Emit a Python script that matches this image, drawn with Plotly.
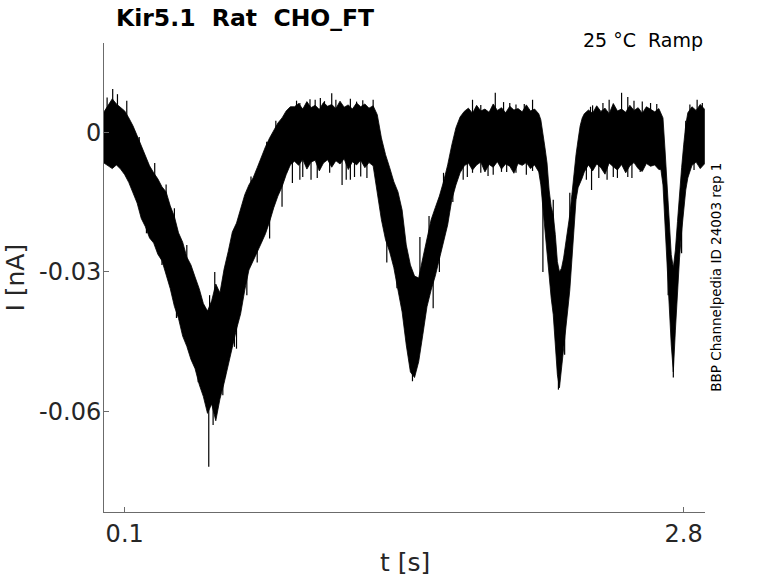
import plotly.graph_objects as go

t_s = [0.00,0.02,0.04,0.06,0.08,0.10,0.12,0.14,0.16,0.18,
       0.20,0.22,0.24,0.26,0.28,0.30,0.32,0.34,0.36,0.38,
       0.40,0.42,0.44,0.46,0.48,0.50,0.52,0.54,0.56,0.58,
       0.60,0.62,0.64,0.66,0.68,0.70,0.72,0.74,0.76,0.78,
       0.80,0.82,0.84,0.86,0.88,0.90,
       0.92,0.94,0.96,0.98,1.00,1.02,1.04,1.06,1.08,1.10,
       1.12,1.14,1.16,1.18,1.20,1.22,1.24,1.26,1.28,1.30,
       1.32,1.34,1.36,1.38,1.40,1.42,1.44,1.46,1.48,1.50,
       1.52,1.54,1.56,1.58,1.60,1.62,1.64,1.66,1.68,1.70,1.72,
       1.74,1.76,1.78,1.80,1.82,1.84,1.86,1.88,1.90,1.92,
       1.94,1.96,1.98,2.00,2.02,2.04,2.06,2.08,
       2.10,2.11,2.12,2.13,2.14,2.15,2.16,2.17,2.18,2.19,
       2.20,2.21,2.22,2.23,2.24,2.25,2.26,2.27,2.28,2.29,
       2.30,2.31,2.32,
       2.34,2.36,2.38,2.40,2.42,2.44,2.46,2.48,2.50,2.52,
       2.54,2.56,2.58,2.60,2.62,2.64,2.66,2.68,
       2.69,2.70,2.71,2.72,2.73,2.74,2.75,2.76,2.77,2.78,
       2.79,2.80,2.81,2.82,2.83,
       2.84,2.86,2.88,2.90]

i_upper = [0.0044,0.0059,0.0072,0.0061,0.0053,0.0046,0.0031,0.0014,-0.0007,-0.0029,
           -0.0052,-0.0072,-0.0087,-0.0100,-0.0117,-0.0128,-0.0158,-0.0181,-0.0216,-0.0236,
           -0.0268,-0.0285,-0.0311,-0.0336,-0.0368,-0.0384,-0.0362,-0.0326,-0.0345,-0.0294,
           -0.0256,-0.0214,-0.0195,-0.0165,-0.0134,-0.0113,-0.0098,-0.0076,-0.0053,-0.0031,
           -0.0012,0.0005,0.0020,0.0031,0.0046,0.0055,
           0.0055,0.0062,0.0050,0.0066,0.0053,0.0058,0.0049,0.0064,0.0056,0.0060,
           0.0051,0.0067,0.0054,0.0059,0.0050,0.0063,0.0055,0.0061,0.0052,0.0057,
           0.0038,-0.0012,-0.0048,-0.0076,-0.0106,-0.0128,-0.0167,-0.0242,-0.0285,-0.0309,
           -0.0313,-0.0270,-0.0225,-0.0188,-0.0162,-0.0137,-0.0106,-0.0070,-0.0027,0.0010,0.0033,
           0.0045,0.0052,0.0041,0.0058,0.0046,0.0050,0.0043,0.0061,0.0047,0.0053,
           0.0042,0.0056,0.0048,0.0051,0.0044,0.0059,0.0046,0.0050,
           0.0040,0.0027,0.0001,-0.0033,-0.0066,-0.0124,-0.0160,-0.0177,-0.0220,-0.0278,
           -0.0300,-0.0292,-0.0270,-0.0242,-0.0214,-0.0177,-0.0134,-0.0085,-0.0048,-0.0016,
           0.0014,0.0031,0.0040,
           0.0048,0.0041,0.0057,0.0045,0.0052,0.0040,0.0062,0.0046,0.0050,0.0043,
           0.0058,0.0047,0.0053,0.0041,0.0055,0.0049,0.0044,0.0051,
           0.0042,0.0031,-0.0038,-0.0113,-0.0192,-0.0263,-0.0291,-0.0253,-0.0192,-0.0128,
           -0.0076,-0.0027,0.0016,0.0042,0.0048,
           0.0055,0.0047,0.0060,0.0050]

i_lower = [-0.0066,-0.0072,-0.0078,-0.0070,-0.0079,-0.0091,-0.0108,-0.0130,-0.0152,-0.0185,
           -0.0203,-0.0227,-0.0238,-0.0262,-0.0276,-0.0303,-0.0336,-0.0374,-0.0400,-0.0438,
           -0.0460,-0.0488,-0.0508,-0.0542,-0.0568,-0.0604,-0.0584,-0.0620,-0.0573,-0.0539,
           -0.0498,-0.0463,-0.0423,-0.0390,-0.0339,-0.0296,-0.0274,-0.0257,-0.0238,-0.0218,
           -0.0192,-0.0162,-0.0137,-0.0117,-0.0091,-0.0070,
           -0.0062,-0.0071,-0.0058,-0.0079,-0.0064,-0.0060,-0.0083,-0.0066,-0.0059,-0.0075,
           -0.0061,-0.0068,-0.0057,-0.0080,-0.0063,-0.0070,-0.0060,-0.0076,-0.0065,-0.0072,
           -0.0128,-0.0188,-0.0231,-0.0257,-0.0291,-0.0339,-0.0386,-0.0457,-0.0515,-0.0527,
           -0.0493,-0.0435,-0.0375,-0.0339,-0.0309,-0.0274,-0.0238,-0.0199,-0.0145,-0.0113,-0.0087,
           -0.0072,-0.0066,-0.0081,-0.0070,-0.0064,-0.0085,-0.0069,-0.0075,-0.0063,-0.0079,
           -0.0068,-0.0073,-0.0088,-0.0067,-0.0071,-0.0065,-0.0078,-0.0070,
           -0.0085,-0.0113,-0.0156,-0.0199,-0.0246,-0.0306,-0.0356,-0.0392,-0.0457,-0.0521,
           -0.0549,-0.0515,-0.0468,-0.0425,-0.0382,-0.0339,-0.0291,-0.0210,-0.0145,-0.0119,
           -0.0109,-0.0098,-0.0085,
           -0.0070,-0.0083,-0.0068,-0.0076,-0.0090,-0.0066,-0.0074,-0.0081,-0.0069,-0.0087,
           -0.0072,-0.0065,-0.0078,-0.0084,-0.0067,-0.0073,-0.0070,-0.0080,
           -0.0080,-0.0113,-0.0199,-0.0278,-0.0371,-0.0457,-0.0515,-0.0425,-0.0339,-0.0270,
           -0.0214,-0.0167,-0.0124,-0.0098,-0.0085,
           -0.0071,-0.0064,-0.0078,-0.0068]

# ---- isolated noise spikes: time, start (inside band), tip ----
spike_t = [0.015,0.042,0.065,0.11,0.535,0.93,0.995,1.045,1.10,1.19,1.25,1.30,
           1.78,1.89,1.93,1.99,2.07,2.36,2.44,2.50,2.56,2.64,2.83,2.865,
           0.17,0.245,0.30,0.34,0.40,0.51,0.656,0.71,0.786,0.83,
           1.526,1.57,1.64,2.17,2.25,2.81,
           0.946,1.02,1.065,1.12,1.22,1.82,1.96,2.03,2.35,2.41,2.53,2.60,2.67,2.89,
           0.10,0.205,0.28,0.35,0.43,0.455,0.506,0.527,0.585,0.63,
           0.91,0.946,1.03,1.15,1.17,1.24,1.27,1.49,
           1.735,1.78,1.88,1.945,2.04,2.195,2.355,2.43,2.48,2.55,2.75,
           0.574,0.64,0.69,0.74,0.80,0.86,1.366,1.415,1.59,1.62,1.685,
           2.12,2.225,2.725,2.79,
           0.96,1.00,1.09,1.19,1.21,1.755,1.82,1.855,1.92,1.99,2.07,
           2.33,2.39,2.46,2.53,2.59,2.85]
spike_from = [0.002,0.003,0.003,0.002,-0.040,0,0,0,0,0,0,0,
              0,0,0,0,0,0,0,0,0,0,0,0,
              -0.006,-0.014,-0.020,-0.025,-0.033,-0.045,-0.028,-0.018,-0.010,-0.005,
              -0.040,-0.030,-0.018,-0.028,-0.025,-0.005,
              0,0,0,0,0,0,0,0,0,0,0,0,0,0,
              -0.004,-0.012,-0.020,-0.030,-0.040,-0.045,-0.050,-0.050,-0.045,-0.035,
              -0.002,-0.002,-0.002,-0.002,-0.002,-0.002,-0.002,-0.045,
              -0.002,-0.002,-0.002,-0.002,-0.002,-0.045,-0.002,-0.002,-0.002,-0.002,-0.045,
              -0.045,-0.035,-0.025,-0.018,-0.012,-0.005,-0.015,-0.020,-0.025,-0.020,-0.008,
              -0.010,-0.035,-0.020,-0.012,
              -0.002,-0.002,-0.002,-0.002,-0.002,-0.002,-0.002,-0.002,-0.002,-0.002,-0.002,
              -0.002,-0.002,-0.002,-0.002,-0.002,-0.002]
spike_tip = [0.0075,0.0093,0.0082,0.0068,-0.0300,0.0068,0.0071,0.0074,0.0084,0.0072,0.0069,0.0070,
             0.0070,0.0085,0.0065,0.0060,0.0070,0.0058,0.0070,0.0085,0.0068,0.0063,0.0060,0.0070,
             -0.0010,-0.0066,-0.0112,-0.0163,-0.0242,-0.0350,-0.0200,-0.0095,-0.0020,0.0025,
             -0.0225,-0.0180,-0.0087,-0.0145,-0.0130,0.0025,
             0.0063,0.0070,0.0067,0.0070,0.0066,0.0059,0.0063,0.0061,0.0055,0.0063,0.0076,0.0066,0.0061,0.0063,
             -0.0087,-0.0217,-0.0285,-0.0399,-0.0489,-0.0537,-0.0719,-0.0629,-0.0526,-0.0461,
             -0.0109,-0.0102,-0.0098,-0.0113,-0.0102,-0.0095,-0.0098,-0.0535,
             -0.0102,-0.0087,-0.0091,-0.0085,-0.0091,-0.0553,-0.0124,-0.0102,-0.0098,-0.0098,-0.0527,
             -0.0565,-0.0465,-0.0350,-0.0280,-0.0228,-0.0160,-0.0280,-0.0335,-0.0378,-0.0300,-0.0150,
             -0.0300,-0.0478,-0.0350,-0.0260,
             -0.0096,-0.0102,-0.0087,-0.0102,-0.0096,-0.0096,-0.0087,-0.0094,-0.0085,-0.0087,-0.0083,
             -0.0102,-0.0098,-0.0096,-0.0096,-0.0085,-0.0081]

x_ticks = [0.1, 2.8]
x_ticklabels = ["0.1", "2.8"]
y_ticks = [-0.06, -0.03, 0]
y_ticklabels = ["-0.06", "-0.03", "0"]

assert len(t_s) == len(i_upper) == len(i_lower)
assert len(spike_t) == len(spike_from) == len(spike_tip)

FONT = "DejaVu Sans"
AX = "#6b6b6b"
TXT = "#262626"

fig = go.Figure()

# band: upper envelope forward, lower envelope backward
fig.add_trace(go.Scatter(
    x=t_s + t_s[::-1], y=i_upper + i_lower[::-1],
    mode="lines", fill="toself", fillcolor="black",
    line=dict(color="black", width=0.8), hoverinfo="skip", showlegend=False))

sx, sy = [], []
for t, a, b in zip(spike_t, spike_from, spike_tip):
    sx += [t, t, None]
    sy += [a, b, None]
fig.add_trace(go.Scatter(x=sx, y=sy, mode="lines",
                         line=dict(color="black", width=1.2),
                         hoverinfo="skip", showlegend=False))

fig.update_layout(
    width=778, height=583,
    margin=dict(l=104, r=73, t=43, b=71),
    paper_bgcolor="white", plot_bgcolor="white",
    font=dict(family=FONT, color=TXT),
    showlegend=False,
    xaxis=dict(range=[0, 2.903], tickvals=x_ticks, ticktext=x_ticklabels,
               ticks="inside", ticklen=5, tickcolor=AX, tickwidth=1,
               showline=True, linecolor=AX, linewidth=1, mirror=False,
               showgrid=False, zeroline=False,
               tickfont=dict(family=FONT, size=24, color=TXT)),
    yaxis=dict(range=[-0.0816, 0.0192], tickvals=y_ticks, ticktext=y_ticklabels,
               ticks="inside", ticklen=5, tickcolor=AX, tickwidth=1,
               showline=True, linecolor=AX, linewidth=1, mirror=False,
               showgrid=False, zeroline=False, ticklabelstandoff=-3,
               tickfont=dict(family=FONT, size=24, color=TXT)),
)

ann = [
    dict(text="<b>Kir5.1\u00a0 Rat\u00a0 CHO_FT</b>", x=0.0166, y=1.0533,
         xanchor="left", yanchor="middle", font=dict(size=23.5, color="black")),
    dict(text="25 °C\u00a0 Ramp", x=1.0, y=1.0064, xanchor="right",
         yanchor="middle", font=dict(size=19, color="black")),
    dict(text="BBP Channelpedia ID 24003 rep 1", x=1.017, y=0.5, textangle=-90,
         xanchor="center", yanchor="middle", font=dict(size=13.5, color="black")),
    dict(text="I [nA]", x=-0.148, y=0.5, textangle=-90, xanchor="center",
         yanchor="middle", font=dict(size=25, color=TXT)),
    dict(text="t [s]", x=0.5, y=-0.1087, xanchor="center", yanchor="middle",
         font=dict(size=25, color=TXT)),
]
for a in ann:
    a.update(xref="paper", yref="paper", showarrow=False)
    a["font"]["family"] = FONT
fig.update_layout(annotations=ann)

# remove the default page margin so the 778x583 figure fills the window exactly
fig.write_html("out.html",
               config={"displayModeBar": False},
               post_script="document.body.style.margin='0';document.body.style.overflow='hidden';")
